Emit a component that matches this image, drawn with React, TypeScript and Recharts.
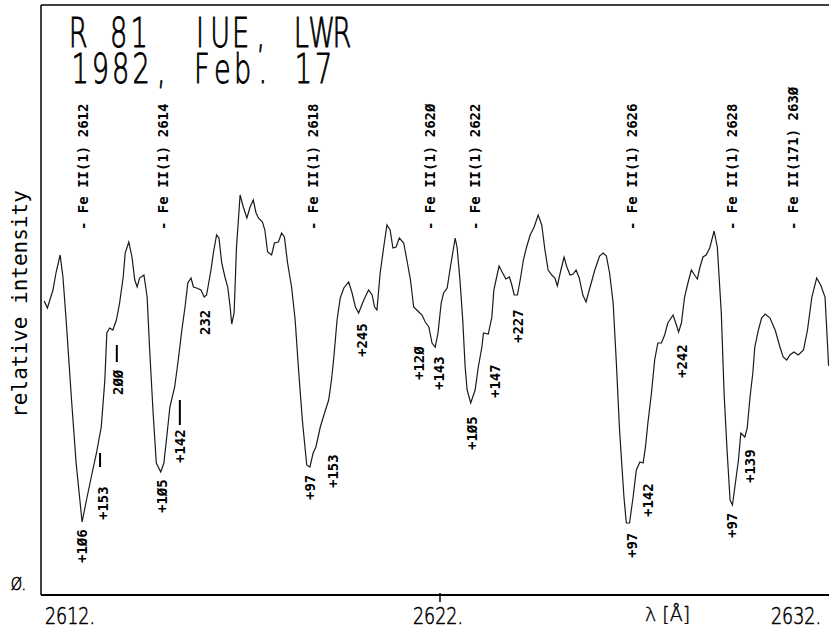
import { LineChart, Line, XAxis, YAxis, ReferenceDot, ReferenceLine } from "recharts";

// R 81, IUE LWR spectrum, 1982 Feb 17 -- wavelength in Angstrom, intensity in arbitrary units
const wavelength = [
  2612.08, 2612.16, 2612.3, 2612.38, 2612.48, 2612.55, 2612.63, 2612.76, 2612.88, 2613.03,
  2613.14, 2613.26, 2613.39, 2613.51, 2613.6, 2613.65, 2613.72, 2613.8, 2613.89, 2613.97,
  2614.06, 2614.11, 2614.2, 2614.28, 2614.35, 2614.41, 2614.47, 2614.58, 2614.66, 2614.72,
  2614.81, 2614.89, 2615.0, 2615.08, 2615.17, 2615.23, 2615.35, 2615.44, 2615.53, 2615.61,
  2615.68, 2615.76, 2615.82, 2615.9, 2616.01, 2616.09, 2616.15, 2616.26, 2616.32, 2616.4,
  2616.46, 2616.53, 2616.61, 2616.68, 2616.74, 2616.78, 2616.84, 2616.9, 2616.99, 2617.07,
  2617.16, 2617.24, 2617.32, 2617.39, 2617.45, 2617.55, 2617.61, 2617.68, 2617.78, 2617.85,
  2617.95, 2618.03, 2618.1, 2618.18, 2618.28, 2618.37, 2618.45, 2618.55, 2618.66, 2618.74,
  2618.82, 2618.89, 2619.0, 2619.13, 2619.21, 2619.28, 2619.34, 2619.42, 2619.5, 2619.59,
  2619.71, 2619.79, 2619.88, 2619.96, 2620.09, 2620.21, 2620.3, 2620.36, 2620.42, 2620.5,
  2620.59, 2620.67, 2620.75, 2620.82, 2620.9, 2620.98, 2621.09, 2621.17, 2621.26, 2621.34,
  2621.47, 2621.55, 2621.63, 2621.72, 2621.8, 2621.88, 2621.95, 2622.03, 2622.09, 2622.18,
  2622.26, 2622.29, 2622.38, 2622.43, 2622.5, 2622.57, 2622.63, 2622.68, 2622.77, 2622.88,
  2622.96, 2623.05, 2623.09, 2623.21, 2623.3, 2623.35, 2623.42, 2623.48, 2623.57, 2623.65,
  2623.74, 2623.8, 2623.86, 2623.94, 2624.01, 2624.09, 2624.17, 2624.26, 2624.36, 2624.46,
  2624.55, 2624.63, 2624.71, 2624.8, 2624.88, 2624.94, 2625.03, 2625.11, 2625.18, 2625.26,
  2625.34, 2625.41, 2625.49, 2625.58, 2625.66, 2625.72, 2625.79, 2625.88, 2626.0, 2626.09,
  2626.17, 2626.25, 2626.34, 2626.42, 2626.5, 2626.61, 2626.67, 2626.75, 2626.84, 2626.92,
  2627.01, 2627.09, 2627.15, 2627.21, 2627.3, 2627.38, 2627.46, 2627.55, 2627.63, 2627.71,
  2627.84, 2627.9, 2627.98, 2628.05, 2628.13, 2628.22, 2628.3, 2628.38, 2628.45, 2628.51,
  2628.59, 2628.67, 2628.76, 2628.87, 2628.95, 2629.05, 2629.12, 2629.19, 2629.27, 2629.33,
  2629.39, 2629.48, 2629.54, 2629.64, 2629.7, 2629.77, 2629.84, 2629.89, 2629.98, 2630.06,
  2630.15, 2630.27, 2630.4, 2630.52, 2630.6, 2630.69, 2630.77, 2630.87, 2630.98, 2631.11,
  2631.21, 2631.32, 2631.44, 2631.54, 2631.65, 2631.74,
];

const intensity = [
  282, 275, 293, 311, 328, 306, 263, 186, 120, 61,
  83, 106, 130, 156, 203, 250, 255, 253, 263, 280,
  306, 330, 341, 326, 303, 296, 305, 308, 286, 236,
  170, 120, 111, 120, 153, 176, 196, 223, 253, 276,
  300, 305, 296, 295, 293, 286, 288, 313, 330, 348,
  345, 320, 306, 296, 276, 259, 270, 336, 388, 376,
  365, 376, 383, 370, 365, 361, 353, 331, 328, 340,
  341, 350, 346, 320, 296, 263, 216, 163, 118, 116,
  130, 136, 156, 173, 183, 203, 226, 263, 285, 295,
  301, 291, 276, 270, 283, 293, 288, 276, 273, 310,
  336, 358, 353, 335, 336, 345, 340, 323, 303, 276,
  271, 268, 261, 256, 240, 236, 250, 280, 290, 295,
  316, 323, 345, 335, 303, 263, 216, 193, 180, 193,
  216, 236, 250, 249, 266, 293, 306, 317, 310, 304,
  306, 298, 288, 288, 303, 323, 336, 348, 356, 368,
  358, 333, 313, 308, 305, 297, 313, 326, 316, 308,
  309, 313, 305, 288, 281, 290, 300, 313, 327, 330,
  327, 310, 280, 220, 153, 86, 60, 60, 86, 113,
  121, 120, 136, 160, 190, 223, 240, 240, 248, 260,
  268, 261, 251, 260, 286, 301, 313, 308, 304, 315,
  326, 328, 335, 352, 336, 270, 190, 136, 83, 78,
  96, 123, 150, 146, 155, 186, 210, 236, 253, 265,
  269, 265, 253, 236, 226, 223, 228, 231, 228, 233,
  253, 286, 305, 298, 286, 217,
];

// line identifications along the top
const lineIds = [
  "- Fe II(1) 2612",
  "- Fe II(1) 2614",
  "- Fe II(1) 2618",
  "- Fe II(1) 262Ø",
  "- Fe II(1) 2622",
  "- Fe II(1) 2626",
  "- Fe II(1) 2628",
  "- Fe II(171) 263Ø",
];
const lineIdWavelength = [2613.05, 2615.06, 2618.82, 2621.75, 2622.88, 2626.81, 2629.32, 2630.85];
const lineIdLevel = 353;

// velocity components (km/s) below the absorptions
const velocityLabels = [
  "+1Ø6", "+153", "2ØØ", "+1Ø5", "+142", "232", "+97", "+153", "+245", "+12Ø",
  "+143", "+1Ø5", "+147", "+227", "+97", "+142", "+242", "+97", "+139",
];
const velocityWavelength = [
  2613.03, 2613.55, 2613.93, 2615.03, 2615.48, 2616.11, 2618.74, 2619.32, 2620.05, 2621.47,
  2621.97, 2622.8, 2623.38, 2623.95, 2626.81, 2627.21, 2628.07, 2629.32, 2629.77,
];
const velocityLevel = [20, 63, 188, 70, 120, 248, 83, 95, 226, 203, 193, 133, 185, 240, 25, 66, 205, 45, 100];

// short marker strokes next to some components
const markWavelength = [2613.48, 2613.9, 2615.48];
const markFrom = [116, 221, 158];
const markTo = [130, 238, 183];

const xTicks = [2612, 2622, 2632];
const yTicks = [0];

const titleLines = ["R 81  IUE, LWR", "1982, Feb. 17"];

const data = wavelength.map((w, i) => ({ wavelength: w, intensity: intensity[i] }));

const labelFont = "DejaVu Sans Mono";

// plotter-style title: one glyph per fixed-width cell
const TITLE_PITCH = 20.3;
const TITLE_SX = 0.68;
const titleStart = [
  { x: 68, y: 47 },
  { x: 70, y: 83 },
];
const titleX: number[] = [];
const titleY: number[] = [];
titleLines.forEach((line, li) => {
  for (let ci = 0; ci < line.length; ci++) {
    titleX.push((titleStart[li].x + TITLE_PITCH * (ci + 0.5)) / TITLE_SX);
    titleY.push(titleStart[li].y);
  }
  if (li < titleLines.length - 1) {
    titleX.push((titleStart[li].x + TITLE_PITCH * (line.length + 0.5)) / TITLE_SX);
    titleY.push(titleStart[li].y);
  }
});

const rotated = (text: string) => (p: any) => (
  <text
    x={p.cx}
    y={p.cy}
    dy="0.36em"
    transform={`rotate(-90 ${p.cx} ${p.cy})`}
    fontFamily={labelFont}
    fontWeight="bold"
    fontSize={14}
    fill="#000"
  >
    {text}
  </text>
);

const XTick = (props: any) => {
  const { x, y, payload, index } = props;
  const last = index === xTicks.length - 1;
  const anchor = index === 0 ? "start" : last ? "end" : "middle";
  const dx = index === 0 ? 4 : last ? -13 : -2;
  return (
    <g>
      {index > 0 && !last && <line x1={x} x2={x} y1={y - 4} y2={y + 5} stroke="#000" strokeWidth={1.5} />}
      <text
        transform={`translate(${x + dx},${y + 27}) scale(0.76,1)`}
        textAnchor={anchor}
        fontFamily="DejaVu Sans"
        fontWeight={200}
        fontSize={23}
        fill="#000"
        stroke="#000"
        strokeWidth={0.6}
      >
        {`${payload.value}.`}
      </text>
    </g>
  );
};

const YTick = (props: any) => {
  const { x, y } = props;
  return (
    <text
      transform={`translate(${x - 13},${y + 7}) scale(0.8,1)`}
      textAnchor="end"
      fontFamily="DejaVu Sans"
      fontWeight={200}
      fontSize={18}
      fill="#000"
      stroke="#000"
      strokeWidth={0.6}
    >
      Ø.
    </text>
  );
};

export default function App() {
  return (
    <div style={{ position: "fixed", left: 0, top: 0, width: 829, height: 630, overflow: "hidden", background: "#fff" }}>
      <LineChart width={850} height={630} data={data} margin={{ top: 5, right: 11, left: 0, bottom: 0 }}>
        <XAxis
          dataKey="wavelength"
          type="number"
          domain={[2612, 2632]}
          ticks={xTicks}
          allowDataOverflow
          height={35}
          tickSize={0}
          tickLine={false}
          tick={<XTick />}
          axisLine={{ stroke: "#000", strokeWidth: 2 }}
        />
        <YAxis
          type="number"
          domain={[-12, 578]}
          ticks={yTicks}
          allowDataOverflow
          width={41}
          tickSize={0}
          tickLine={false}
          tick={<YTick />}
          axisLine={{ stroke: "#000", strokeWidth: 1.5 }}
        />
        <ReferenceLine y={578} stroke="#000" strokeWidth={1.5} ifOverflow="visible" />
        <Line
          dataKey="intensity"
          type="linear"
          stroke="#1a1a1a"
          strokeWidth={1.2}
          dot={false}
          isAnimationActive={false}
        />
        {lineIds.map((t, i) => (
          <ReferenceDot
            key={"id" + i}
            x={lineIdWavelength[i]}
            y={lineIdLevel}
            r={0}
            ifOverflow="visible"
            shape={rotated(t)}
          />
        ))}
        {velocityLabels.map((t, i) => (
          <ReferenceDot
            key={"v" + i}
            x={velocityWavelength[i]}
            y={velocityLevel[i]}
            r={0}
            ifOverflow="visible"
            shape={rotated(t)}
          />
        ))}
        {markWavelength.map((w, i) => (
          <ReferenceLine
            key={"m" + i}
            segment={[
              { x: w, y: markFrom[i] },
              { x: w, y: markTo[i] },
            ]}
            stroke="#000"
            strokeWidth={2}
            ifOverflow="visible"
          />
        ))}
      </LineChart>
      <svg width={829} height={630} style={{ position: "absolute", left: 0, top: 0, pointerEvents: "none" }}>
        <text
          x={titleX.join(" ")}
          y={titleY.join(" ")}
          textAnchor="middle"
          transform={`scale(${TITLE_SX},1)`}
          fontFamily="DejaVu Sans"
          fontWeight={200}
          fontSize={40}
          fill="#000"
          stroke="#000"
          strokeWidth={0.9}
          style={{ whiteSpace: "pre" }}
        >
          {titleLines.join(" ")}
        </text>
        <text
          x={27}
          y={304}
          textAnchor="middle"
          transform="rotate(-90 27 304)"
          fontFamily={labelFont}
          fontSize={21}
          fill="#000"
        >
          relative intensity
        </text>
        <text
          x={645}
          y={621}
          fontFamily="DejaVu Sans"
          fontWeight={200}
          fontSize={19}
          fill="#000"
          stroke="#000"
          strokeWidth={0.4}
        >
          λ [Å]
        </text>
      </svg>
    </div>
  );
}
